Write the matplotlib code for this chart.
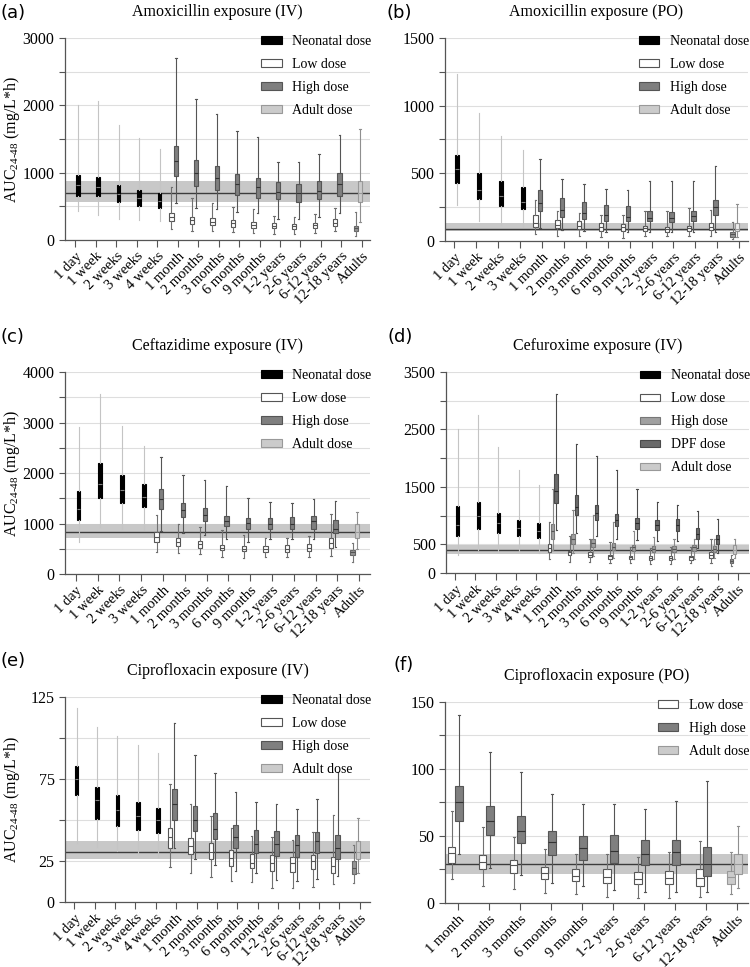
# Simulated AUC24-48 box plots per age group for six antibiotic regimens (panels a-f)

import numpy as np
import matplotlib.pyplot as plt
from matplotlib.patches import Patch

plt.rcParams['font.family'] = ['Liberation Serif', 'DejaVu Serif']
plt.rcParams['mathtext.fontset'] = 'custom'
plt.rcParams['mathtext.rm'] = 'Liberation Serif'

ages15 = ['1 day', '1 week', '2 weeks', '3 weeks', '4 weeks', '1 month', '2 months',
          '3 months', '6 months', '9 months', '1-2 years', '2-6 years', '6-12 years',
          '12-18 years', 'Adults']
ages14 = [a for a in ages15 if a != '4 weeks']
ages10 = ages15[5:]

# every box: (lower whisker, Q1, median, Q3, upper whisker)
# (a) amoxicillin IV
amox_iv_neo = [(430, 660, 820, 965, 2000), (370, 660, 780, 940, 2065), (315, 560, 690, 815, 1710),
               (295, 510, 625, 745, 1510), (280, 475, 575, 695, 1350)]
amox_iv_low = [(160, 275, 340, 395, 780), (140, 240, 295, 345, 620), (130, 220, 270, 320, 550),
               (115, 200, 250, 295, 485), (110, 185, 230, 270, 455), (90, 175, 210, 250, 355),
               (90, 165, 205, 245, 345), (100, 175, 220, 260, 385), (130, 210, 260, 305, 470)]
amox_iv_high = [(550, 945, 1170, 1400, 2710), (480, 800, 1000, 1190, 2090), (460, 745, 920, 1100, 1870),
                (410, 675, 825, 980, 1625), (395, 630, 790, 915, 1535), (305, 605, 715, 855, 1165),
                (305, 570, 705, 825, 1155), (345, 610, 725, 870, 1275), (405, 655, 825, 995, 1560)]
amox_iv_adults = [(60, 140, 175, 205, 410), (265, 570, 700, 875, 1650)]

# (b) amoxicillin PO
amox_po_neo = [(265, 430, 530, 635, 1235), (150, 310, 375, 505, 945), (120, 260, 330, 440, 775),
               (100, 235, 290, 400, 675)]
amox_po_low = [(50, 105, 135, 190, 300), (35, 95, 120, 155, 225), (35, 85, 110, 150, 210),
               (30, 75, 100, 130, 195), (25, 75, 100, 125, 190), (35, 75, 95, 110, 220),
               (35, 70, 90, 105, 220), (35, 75, 95, 110, 245), (40, 80, 105, 135, 230)]
amox_po_high = [(95, 220, 280, 375, 605), (80, 180, 230, 315, 460), (75, 165, 205, 290, 420),
                (70, 150, 190, 265, 385), (65, 145, 175, 255, 380), (65, 145, 170, 220, 445),
                (65, 140, 170, 215, 440), (65, 145, 185, 225, 440), (70, 195, 250, 305, 555)]
amox_po_adults = [(12, 32, 50, 70, 140), (27, 72, 90, 130, 270)]

# (c) ceftazidime IV
ceft_neo = [(640, 1060, 1290, 1640, 2920), (925, 1510, 1780, 2190, 3570), (890, 1410, 1660, 1970, 2930),
            (880, 1330, 1530, 1790, 2540)]
ceft_low = [(430, 640, 740, 835, 1165), (410, 560, 640, 705, 985), (390, 520, 590, 660, 930),
            (345, 475, 520, 570, 870), (320, 455, 505, 555, 770), (340, 440, 505, 555, 705),
            (345, 440, 505, 575, 710), (345, 455, 520, 585, 750), (350, 510, 605, 705, 1185)]
ceft_high = [(855, 1285, 1480, 1690, 2320), (805, 1135, 1265, 1415, 1965), (770, 1050, 1165, 1300, 1855),
             (690, 960, 1050, 1145, 1745), (640, 890, 1015, 1100, 1515), (695, 890, 1000, 1100, 1420),
             (690, 885, 985, 1120, 1400), (700, 890, 1045, 1150, 1495), (540, 805, 900, 1065, 1455)]
ceft_adults = [(235, 375, 430, 475, 605), (490, 715, 825, 995, 1225)]

# (d) cefuroxime IV
cefu_neo = [(320, 640, 840, 1175, 2500), (400, 765, 985, 1245, 2760), (380, 700, 870, 1040, 2190),
            (380, 650, 785, 925, 1800), (350, 610, 740, 870, 1540)]
cefu_low = [(240, 360, 435, 505, 880), (200, 315, 360, 390, 650), (185, 280, 320, 365, 600),
            (175, 250, 290, 320, 545), (175, 245, 275, 300, 450), (165, 230, 265, 290, 440),
            (165, 230, 270, 300, 450), (170, 230, 275, 305, 450), (175, 260, 310, 360, 590)]
cefu_high = [(400, 600, 740, 855, 1455), (350, 510, 595, 680, 1100), (290, 450, 530, 595, 1010),
             (260, 405, 460, 520, 895), (245, 390, 445, 485, 730), (245, 375, 425, 475, 625),
             (245, 375, 425, 475, 590), (245, 390, 445, 490, 600), (260, 365, 420, 475, 590)]
cefu_dpf = [(750, 1215, 1420, 1725, 3110), (690, 1010, 1155, 1360, 2255), (645, 925, 1050, 1185, 2035),
            (595, 825, 925, 1030, 1795), (575, 770, 870, 965, 1455), (550, 750, 840, 925, 1240),
            (555, 740, 835, 935, 1185), (435, 590, 680, 780, 1080), (350, 510, 595, 665, 940)]
cefu_adults = [(115, 175, 215, 250, 320), (260, 330, 405, 485, 595)]

# (e) ciprofloxacin IV
cipro_iv_neo = [(36, 65, 75, 83, 118), (33.5, 50.5, 62, 70, 107), (31, 46.5, 56, 65, 101),
                (29.5, 44, 52.5, 61, 96), (27.5, 42, 50, 57.5, 91)]
cipro_iv_low = [(21.5, 33, 39.5, 45, 72), (17.5, 29, 34, 39, 60), (15, 26, 30.5, 36, 52.5),
                (13, 22, 27, 31.5, 45), (12, 20.5, 24, 29, 40), (8.5, 19, 24, 28.5, 39.5),
                (8.5, 18, 23.5, 27.5, 38), (9, 20, 25, 28.5, 42.5), (11, 17.5, 22, 27.5, 53)]
cipro_iv_high = [(33, 50, 60, 69, 109), (26.5, 43.5, 50, 58.5, 89.5), (22.5, 38.5, 44.5, 54, 78.5),
                 (19, 33, 39.5, 47, 67), (17.5, 30, 35.5, 44, 61), (13.5, 28, 35.5, 43, 59.5),
                 (13, 27.5, 35, 41, 56.5), (14, 30, 37, 42.5, 63), (16, 26.5, 33, 41, 79)]
cipro_iv_adults = [(11.5, 17, 20.5, 25, 34.5), (17.5, 26, 30.5, 37, 51)]

# (f) ciprofloxacin PO
cipro_po_low = [(18, 30, 37, 42, 68.5), (13, 25, 30.5, 36, 56.5), (10.5, 22.5, 28, 32, 49),
                (7.5, 18, 22.5, 26.5, 40), (6.5, 16.5, 20.5, 25, 36.5), (4.5, 15, 19.5, 25, 36.5),
                (4, 14.5, 18, 23, 34.5), (4, 14.5, 18.5, 23.5, 38), (4.5, 13, 19, 25, 46)]
cipro_po_high = [(36.5, 61, 75, 87, 140), (26, 51, 61, 72, 113), (21, 44.5, 54, 65, 98),
                 (15, 36, 45.5, 54, 81), (13, 32, 41, 50, 73.5), (9.5, 30, 38.5, 51, 73.5),
                 (8, 28, 36.5, 47, 70), (8, 28.5, 38, 47, 76), (8.5, 20.5, 29, 41.5, 91)]
cipro_po_adults = [(7, 14.5, 19.5, 24, 38), (11, 21.5, 29, 36.5, 57.5)]

NEO = ('black', 'black', '#c4c4c4', '#808080')
LOW = ('white', '#555555', '#707070', '#555555')
HIGH = ('#7f7f7f', '#555555', '#555555', '#333333')
HIGH_D = ('#a0a0a0', '#777777', '#8a8a8a', '#555555')
DPF = ('#6a6a6a', '#4a4a4a', '#4a4a4a', '#2a2a2a')
ADULT = ('#cbcbcb', '#999999', '#8f8f8f', '#999999')
ADULT_L = ('#959595', '#666666', '#777777', '#555555')


def draw_boxes(ax, stats, pos, width, style, caps=True):
    fill, edge, whisk, med = style
    ax.bxp([dict(whislo=a, q1=b, med=c, q3=d, whishi=e) for a, b, c, d, e in stats],
           positions=pos, widths=width, patch_artist=True, showfliers=False, showcaps=caps,
           manage_ticks=False, capwidths=width * 0.35,
           boxprops=dict(facecolor=fill, edgecolor=edge, linewidth=0.8),
           whiskerprops=dict(color=whisk, linewidth=0.8),
           capprops=dict(color=whisk, linewidth=0.8),
           medianprops=dict(color=med, linewidth=0.8))


def panel(rect, cats, xlim, ylim, major, step, title, letter, ylabel, legend,
          low, high, adults, neo=None, dpf=None, slots=None, width=0.2, high_style=HIGH,
          adult_style=ADULT, adult_left=ADULT_L):
    ax = fig.add_axes(rect)
    x = np.arange(len(cats))
    kids = x[cats.index('1 month'):][:len(low)]
    ref = adults[1]
    ax.axhspan(ref[1], ref[3], color='#c8c8c8', lw=0, zorder=1)
    ax.axhline(ref[2], color='#3c3c3c', lw=1.0, zorder=1.2)
    if neo:
        draw_boxes(ax, neo, x[:len(neo)] + slots['neo'], width * 0.85, NEO, caps=False)
    draw_boxes(ax, low, kids + slots['low'], width, LOW)
    draw_boxes(ax, high, kids + slots['high'], width, high_style)
    if dpf:
        draw_boxes(ax, dpf, kids + slots['dpf'], width, DPF)
    draw_boxes(ax, [adults[0]], [x[-1] + slots['low']], width, adult_left)
    draw_boxes(ax, [ref], [x[-1] + slots['high']], width, adult_style)

    ax.set_xlim(*xlim)
    ax.set_ylim(*ylim)
    ax.set_xticks(x)
    ax.set_xticklabels(cats, rotation=45, ha='right', rotation_mode='anchor', fontsize=10.5)
    ax.set_yticks(major)
    ax.set_yticks(np.arange(0, ylim[1] + step / 2, step), minor=True)
    ax.tick_params(axis='y', which='major', labelsize=11.5, length=4, width=0.8, color='#555555')
    ax.tick_params(axis='y', which='minor', length=4, width=0.8, color='#555555')
    ax.tick_params(axis='x', length=5, width=0.8, color='#555555', pad=2)
    ax.yaxis.grid(True, which='both', color='#dedede', lw=0.8)
    ax.set_axisbelow(True)
    for s in ('top', 'right'):
        ax.spines[s].set_visible(False)
    for s in ('left', 'bottom'):
        ax.spines[s].set_color('#555555')
        ax.spines[s].set_linewidth(0.9)
    ax.set_title(title, fontsize=11.5, pad=16)
    if ylabel:
        ax.set_ylabel(r'AUC$_{\mathregular{24\text{-}48}}$ (mg/L*h)', fontsize=11.5)
        ax.yaxis.set_label_coords(-0.14, 0.5)
    handles = [Patch(facecolor=st[0], edgecolor=st[1], lw=0.8) for _, st in legend]
    ax.legend(handles, [lb for lb, _ in legend], loc='upper right', bbox_to_anchor=(1.045, 1.075),
              frameon=False, fontsize=10, handlelength=1.45, handleheight=0.5,
              handletextpad=0.75, labelspacing=0.72)
    fig.text(letter[1], letter[2], letter[0], fontsize=13, family='DejaVu Sans',
             va='center', ha='left')
    return ax


fig = plt.figure(figsize=(7.5, 9.67), dpi=100)

slots3 = {'neo': 0.12, 'low': -0.30, 'high': -0.09}
slots4 = {'neo': 0.14, 'low': -0.33, 'high': -0.165, 'dpf': 0.0}
slots2 = {'low': -0.20, 'high': 0.03}

leg4 = [('Neonatal dose', NEO), ('Low dose', LOW), ('High dose', HIGH), ('Adult dose', ADULT)]

panel([0.0867, 0.7518, 0.4067, 0.2089], ages15, (-0.5, 14.4), (0, 3000), [0, 1000, 2000, 3000], 500,
      'Amoxicillin exposure (IV)', ('(a)', 0.0, 0.987), True, leg4,
      amox_iv_low, amox_iv_high, amox_iv_adults, neo=amox_iv_neo, slots=slots3, width=0.21)

panel([0.5933, 0.7508, 0.404, 0.2099], ages14, (-0.43, 13.4), (0, 1500), [0, 500, 1000, 1500], 250,
      'Amoxicillin exposure (PO)', ('(b)', 0.515, 0.987), False, leg4,
      amox_po_low, amox_po_high, amox_po_adults, neo=amox_po_neo, slots=slots3, width=0.2,
      adult_style=('#ececec', '#999999', '#8f8f8f', '#999999'))

panel([0.0867, 0.4064, 0.4067, 0.2089], ages14, (-0.5, 13.5), (0, 4000), [0, 1000, 2000, 3000, 4000], 500,
      'Ceftazidime exposure (IV)', ('(c)', 0.0, 0.652), True, leg4,
      ceft_low, ceft_high, ceft_adults, neo=ceft_neo, slots=slots3, width=0.2)

panel([0.5947, 0.4074, 0.404, 0.2079], ages15, (-0.45, 14.55), (0, 3500), [0, 500, 1500, 2500, 3500], 500,
      'Cefuroxime exposure (IV)', ('(d)', 0.517, 0.652), False,
      [('Neonatal dose', NEO), ('Low dose', LOW), ('High dose', HIGH_D), ('DPF dose', DPF),
       ('Adult dose', ADULT)],
      cefu_low, cefu_high, cefu_adults, neo=cefu_neo, dpf=cefu_dpf, slots=slots4, width=0.17,
      high_style=HIGH_D)

panel([0.0867, 0.0672, 0.4067, 0.212], ages15, (-0.45, 14.5), (0, 125), [0, 25, 75, 125], 25,
      'Ciprofloxacin exposure (IV)', ('(e)', 0.0, 0.316), True, leg4,
      cipro_iv_low, cipro_iv_high, cipro_iv_adults, neo=cipro_iv_neo, slots=slots3, width=0.21)

panel([0.5933, 0.0662, 0.404, 0.2079], ages10, (-0.42, 9.35), (0, 150), [0, 50, 100, 150], 25,
      'Ciprofloxacin exposure (PO)', ('(f)', 0.525, 0.312), False,
      [('Low dose', LOW), ('High dose', HIGH), ('Adult dose', ADULT)],
      cipro_po_low, cipro_po_high, cipro_po_adults, slots=slots2, width=0.235,
      adult_left=ADULT)

fig.savefig('out.png', dpi=100)
